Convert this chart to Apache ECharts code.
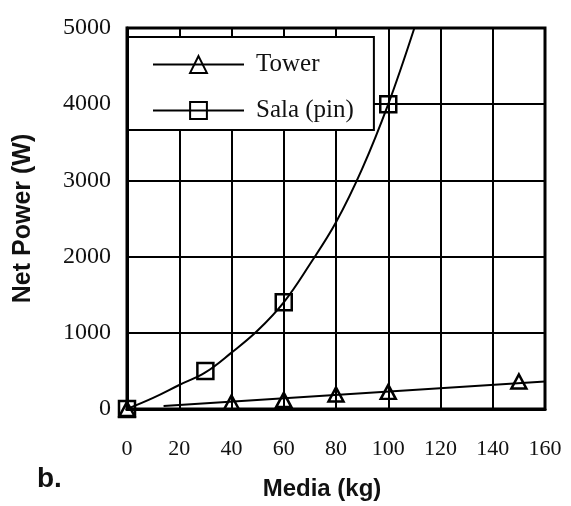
<!DOCTYPE html>
<html>
<head>
<meta charset="utf-8">
<script src="https://cdn.jsdelivr.net/npm/echarts@6/dist/echarts.min.js"></script>
<style>
html, body {margin: 0; padding: 0; background: #fff;}
#chart {width: 571px; height: 506px;}
</style>
</head>
<body>
<div id="chart"></div>
<script>
var towerPts = [[0, 0], [40, 85], [60, 120], [80, 190], [100, 225], [150, 360]];
var salaPts = [[0, 0], [30, 500], [60, 1400], [100, 4000]];
// fitted curves
var towerFit = [[14, 40], [160, 362]];
var salaFit = [[0, 0], [10, 145], [20, 315], [30, 480], [40, 740], [50, 1030], [60, 1400],
    [70, 1900], [80, 2450], [90, 3150], [100, 4000], [110, 5000]];
var xTicks = {min: 0, max: 160, step: 20};
var yTicks = {min: 0, max: 5000, step: 1000};

var serif = 'Liberation Serif';
var sans = 'Liberation Sans';

var chart = echarts.init(document.getElementById('chart'));
var option = {
    backgroundColor: '#fff',
    animation: false,
    grid: {
        left: 127, right: 26, top: 28, bottom: 97,
        show: true, borderColor: '#000', borderWidth: 3
    },
    legend: {
        data: ['Tower', 'Sala (pin)'],
        left: 128, top: 37,
        orient: 'vertical',
        align: 'left',
        padding: [15, 20, 7, 24],
        itemGap: 21,
        itemWidth: 91,
        itemHeight: 21,
        backgroundColor: '#fff',
        borderColor: '#000',
        borderWidth: 2,
        borderRadius: 0,
        lineStyle: {color: '#000', width: 2, opacity: 1},
        textStyle: {fontFamily: serif, fontSize: 25, lineHeight: 25, color: '#111', padding: [0, 0, 0, 7]}
    },
    xAxis: {
        type: 'value',
        min: xTicks.min, max: xTicks.max, interval: xTicks.step,
        name: 'Media (kg)',
        nameLocation: 'middle',
        nameGap: 68,
        nameTextStyle: {fontFamily: sans, fontSize: 24, fontWeight: 'bold', color: '#111', padding: [0, 28, 0, 0]},
        axisLine: {lineStyle: {color: '#000', width: 3}},
        axisTick: {show: false},
        axisLabel: {margin: 29, fontFamily: serif, fontSize: 22, color: '#111'},
        splitLine: {lineStyle: {color: '#000', width: 2}}
    },
    yAxis: {
        type: 'value',
        min: yTicks.min, max: yTicks.max, interval: yTicks.step,
        name: 'Net Power (W)',
        nameLocation: 'middle',
        nameGap: 91,
        nameTextStyle: {fontFamily: sans, fontSize: 25, fontWeight: 'bold', color: '#111'},
        axisLine: {lineStyle: {color: '#000', width: 3}},
        axisTick: {show: false},
        axisLabel: {
            margin: 16, fontFamily: serif, fontSize: 24, color: '#111',
            formatter: function (v) { return String(v); }
        },
        splitLine: {lineStyle: {color: '#000', width: 2}}
    },
    graphic: [{
        type: 'text',
        left: 37, top: 465,
        style: {text: 'b.', font: 'bold 28px ' + sans, fill: '#111'}
    }],
    series: [{
        name: 'towerFit',
        type: 'line',
        data: towerFit,
        showSymbol: false,
        lineStyle: {color: '#000', width: 2},
        z: 3
    }, {
        name: 'salaFit',
        type: 'line',
        data: salaFit,
        smooth: 0.4,
        showSymbol: false,
        lineStyle: {color: '#000', width: 2},
        z: 3
    }, {
        name: 'Tower',
        type: 'line',
        data: towerPts,
        symbol: 'triangle',
        symbolSize: [15, 14],
        lineStyle: {opacity: 0},
        itemStyle: {color: 'rgba(0,0,0,0)', borderColor: '#000', borderWidth: 2.5},
        z: 4
    }, {
        name: 'Sala (pin)',
        type: 'line',
        data: salaPts,
        symbol: 'rect',
        symbolSize: [16, 16],
        lineStyle: {opacity: 0},
        itemStyle: {color: 'rgba(0,0,0,0)', borderColor: '#000', borderWidth: 2.5},
        z: 4
    }]
};
chart.setOption(option);
</script>
</body>
</html>
